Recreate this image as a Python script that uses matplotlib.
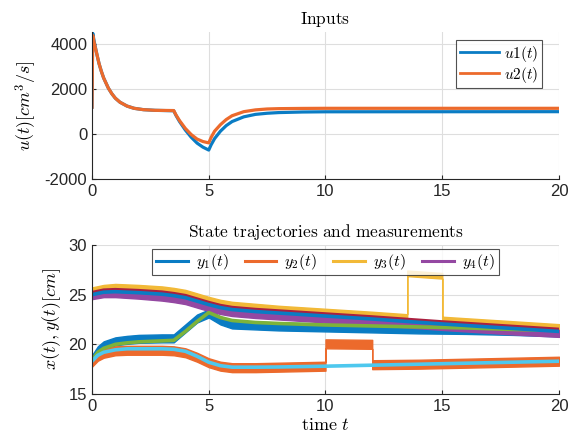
import matplotlib.pyplot as plt
from matplotlib.lines import Line2D
import numpy as np

plt.rcParams['mathtext.fontset'] = 'cm'
plt.rcParams['font.family'] = ['Liberation Sans', 'DejaVu Sans']
plt.rcParams['axes.unicode_minus'] = False

# --- inputs (top panel) ---
t_u = [0, 0.03, 0.1, 0.2, 0.3, 0.4, 0.5, 0.7, 0.85, 1.0, 1.2, 1.5, 1.8, 2.2, 2.7, 3.5,
       3.6, 3.75, 4.0, 4.25, 4.5, 4.75, 5.0, 5.1, 5.25, 5.5, 5.75, 6.0, 6.5, 7.0, 7.5,
       8.0, 9.0, 10, 20]
u1 = [1200, 4500, 4100, 3600, 3150, 2800, 2500, 2050, 1800, 1600, 1420, 1250, 1150, 1090,
      1060, 1040, 830, 560, 180, -140, -400, -580, -710, -480, -200, 130, 380, 560, 770,
      880, 930, 960, 985, 995, 1000]
u2 = [1200, 4400, 4050, 3600, 3150, 2800, 2500, 2050, 1800, 1600, 1420, 1250, 1150, 1090,
      1060, 1050, 850, 600, 250, -20, -220, -330, -390, -150, 130, 420, 650, 820, 1000,
      1080, 1120, 1135, 1145, 1150, 1150]

# --- lower group: x1/y1, x2/y2 ---
t_lo = [0, 0.25, 0.5, 1, 1.5, 2, 3, 3.5, 4, 4.5, 5, 5.5, 6, 7, 8, 10, 12, 14, 16, 18, 20]
x1 = [18.4, 19.2, 19.6, 20.0, 20.15, 20.25, 20.35, 20.4, 21.3, 22.3, 23.2, 22.7, 22.4, 22.2,
      22.1, 21.95, 21.85, 21.75, 21.65, 21.5, 21.4]
y1 = [18.5, 19.4, 19.9, 20.3, 20.45, 20.55, 20.6, 20.6, 21.6, 22.6, 23.1, 22.4, 22.0, 21.9,
      21.8, 21.7, 21.6, 21.5, 21.45, 21.35, 21.2]
x2 = [18.3, 18.9, 19.2, 19.45, 19.55, 19.55, 19.55, 19.5, 19.3, 18.8, 18.2, 17.85, 17.7, 17.7,
      17.72, 17.8, 17.9, 18.0, 18.1, 18.2, 18.3]
t_y2 = [0, 0.25, 0.5, 1, 1.5, 2, 3, 3.5, 4, 4.5, 5, 5.5, 6, 7, 8, 10, 10, 12, 12, 14, 16, 18, 20]
y2 = [18.2, 18.8, 19.1, 19.35, 19.4, 19.4, 19.4, 19.35, 19.15, 18.7, 18.15, 17.8, 17.65, 17.65,
      17.7, 17.8, 20.05, 20.0, 17.95, 18.0, 18.1, 18.2, 18.3]

# --- upper group: x3/y3, x4/y4 ---
t_hi = [0, 0.5, 1, 2, 3, 3.5, 4, 4.5, 5, 5.5, 6, 7, 8, 10, 12, 13.5, 15, 16, 18, 20]
x3 = [25.2, 25.45, 25.5, 25.4, 25.25, 25.1, 24.9, 24.55, 24.2, 23.9, 23.7, 23.5, 23.35, 23.05,
      22.75, 22.5, 22.25, 22.1, 21.8, 21.5]
x4 = [25.0, 25.25, 25.3, 25.2, 25.05, 24.9, 24.7, 24.35, 24.0, 23.7, 23.5, 23.3, 23.15, 22.85,
      22.55, 22.3, 22.05, 21.9, 21.6, 21.3]
y4 = [24.9, 25.1, 25.1, 24.95, 24.75, 24.6, 24.4, 24.05, 23.7, 23.4, 23.2, 23.0, 22.85, 22.55,
      22.3, 22.05, 21.8, 21.65, 21.35, 21.1]
t_y3 = [0, 0.5, 1, 2, 3, 3.5, 4, 4.5, 5, 5.5, 6, 7, 8, 10, 12, 13.5, 13.5, 15, 15, 16, 18, 20]
y3 = [25.45, 25.7, 25.8, 25.7, 25.55, 25.4, 25.2, 24.85, 24.5, 24.2, 24.0, 23.8, 23.6, 23.3,
      23.0, 22.75, 27.15, 26.9, 22.5, 22.35, 22.05, 21.75]

# noise band half-widths [cm]
noise = {'y1': 0.4, 'y2': 0.45, 'y3': 0.28, 'y4': 0.35}

c_blue, c_orange, c_yellow, c_purple = '#0a7cc4', '#ec6a2c', '#f2b937', '#9448a2'
c_green, c_cyan, c_red = '#7db33a', '#4ec8ee', '#aa2040'
dark = '#262626'


def style(ax):
    for s in ['top', 'right']:
        ax.spines[s].set_visible(False)
    for s in ['left', 'bottom']:
        ax.spines[s].set_color(dark)
        ax.spines[s].set_linewidth(0.8)
    ax.grid(True, color='#dedede', linewidth=0.8)
    ax.set_axisbelow(True)
    ax.tick_params(direction='in', length=3, colors=dark, labelsize=12)
    ax.set_xlim(0, 20)
    ax.set_xticks([0, 5, 10, 15, 20])


fig = plt.figure(figsize=(5.8, 4.42), dpi=100)
ax1 = fig.add_axes([0.1586, 0.595, 0.8052, 0.3326])
ax2 = fig.add_axes([0.1586, 0.1086, 0.8052, 0.3371])

ax1.plot(t_u, u1, color=c_blue, linewidth=2.3, label=r'$u1(t)$')
ax1.plot(t_u, u2, color=c_orange, linewidth=2.3, label=r'$u2(t)$')
style(ax1)
ax1.set_ylim(-2000, 4550)
ax1.set_yticks([-2000, 0, 2000, 4000])
ax1.set_title(r'$\mathrm{Inputs}$', fontsize=12.5, pad=6)
ax1.set_ylabel(r'$u(t)[cm^3/s]$', fontsize=13)
leg1 = ax1.legend(loc='upper right', fontsize=11, frameon=True, fancybox=False,
                  edgecolor=dark, handlelength=2.6, handletextpad=0.3, labelspacing=0.05,
                  borderaxespad=0.0, borderpad=0.25, bbox_to_anchor=(0.964, 0.946))
leg1.get_frame().set_linewidth(0.8)
for h in leg1.get_lines():
    h.set_linewidth(2.0)

# measurements drawn as noise bands, then the state trajectories
meas = [(t_lo, y1, c_blue, 'y1'), (t_y2, y2, c_orange, 'y2'),
        (t_y3, y3, c_yellow, 'y3'), (t_hi, y4, c_purple, 'y4')]
for tt, yy, col, key in meas:
    yy = np.array(yy)
    ax2.fill_between(tt, yy - noise[key], yy + noise[key], color=col,
                     edgecolor=col, linewidth=1.0)
ax2.plot(t_lo, x1, color=c_green, linewidth=2.6)
ax2.plot(t_lo, x2, color=c_cyan, linewidth=2.6)
ax2.plot(t_hi, x3, color=c_red, linewidth=2.6)
ax2.plot(t_hi, x4, color=c_blue, linewidth=2.6)
style(ax2)
ax2.set_ylim(15, 30)
ax2.set_yticks([15, 20, 25, 30])
ax2.set_title(r'$\mathrm{State\ trajectories\ and\ measurements}$', fontsize=12.5, pad=6)
ax2.set_ylabel(r'$x(t),y(t)[cm]$', fontsize=13)
ax2.set_xlabel(r'$\mathrm{time}\ t$', fontsize=13, labelpad=2)
handles = [Line2D([], [], color=c, linewidth=2.2) for c in (c_blue, c_orange, c_yellow, c_purple)]
labels = [r'$y_1(t)$', r'$y_2(t)$', r'$y_3(t)$', r'$y_4(t)$']
leg2 = ax2.legend(handles, labels, loc='upper center', ncol=4, fontsize=11.5, frameon=True,
                  fancybox=False, edgecolor=dark, handlelength=2.0, columnspacing=1.0,
                  handletextpad=0.5, borderaxespad=0.25, borderpad=0.2,
                  bbox_to_anchor=(0.5, 1.0))
leg2.get_frame().set_linewidth(0.8)

fig.savefig('out.png', dpi=100)
